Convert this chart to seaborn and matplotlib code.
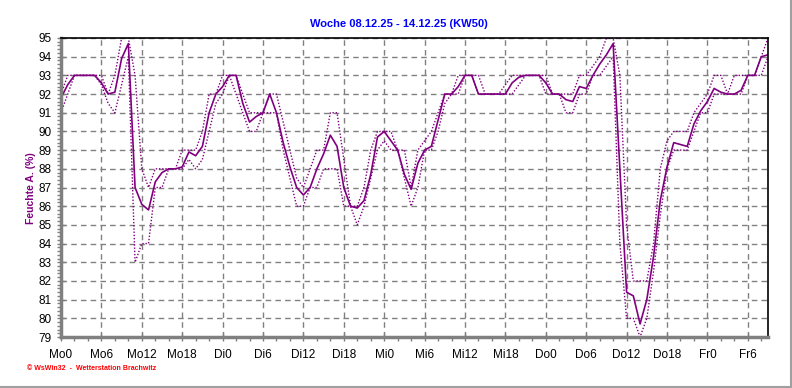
import numpy as np
import pandas as pd
import seaborn as sns
import matplotlib.pyplot as plt
from matplotlib.lines import Line2D
from matplotlib.ticker import MultipleLocator

sns.set_style('white')
plt.rcParams['font.family'] = ['Liberation Sans', 'DejaVu Sans']

# hourly values, Mo 0h .. Fr 9h
hours = list(range(106))
feuchte_mittel = [
    91.8, 92.5, 93.0, 93.0, 93.0, 93.0, 92.6, 92.0, 92.1, 93.9,
    94.7, 87.0, 86.1, 85.8, 87.3, 87.8, 88.0, 88.0, 88.1, 88.9,
    88.7, 89.2, 91.0, 92.0, 92.4, 93.0, 93.0, 91.5, 90.5, 90.8,
    91.0, 92.0, 91.0, 89.4, 88.1, 87.0, 86.6, 87.0, 88.0, 88.8,
    89.8, 89.2, 87.0, 86.0, 85.9, 86.3, 87.7, 89.7, 90.0, 89.5,
    89.0, 87.7, 86.9, 88.3, 89.0, 89.2, 90.6, 92.0, 92.0, 92.4,
    93.0, 93.0, 92.0, 92.0, 92.0, 92.0, 92.0, 92.6, 92.9, 93.0,
    93.0, 93.0, 92.6, 92.0, 92.0, 91.7, 91.6, 92.4, 92.3, 93.0,
    93.6, 94.1, 94.7, 88.0, 81.4, 81.2, 79.7, 81.0, 83.3, 86.3,
    88.1, 89.4, 89.3, 89.2, 90.4, 91.1, 91.6, 92.3, 92.1, 92.0,
    92.0, 92.2, 93.0, 93.0, 94.0, 94.1,
]
feuchte_max = [
    92, 93, 93, 93, 93, 93, 93, 92, 93, 95,
    95, 93, 88, 87, 88, 88, 88, 88, 89, 89,
    89, 90, 92, 92, 93, 93, 93, 92, 91, 91,
    91, 92, 92, 90.5, 89, 87.5, 87, 88, 89, 89,
    91, 91, 88.5, 86, 86, 87, 89, 90, 90, 90,
    89, 89, 87, 89, 89.5, 90, 91, 92, 92, 93,
    93, 93, 93, 92, 92, 92, 92.5, 93, 93, 93,
    93, 93, 93, 92, 92, 92, 92, 93, 93, 93.5,
    94, 95, 95, 93, 85, 82, 82, 82, 84, 88,
    89.5, 90, 90, 90, 91, 91.5, 92, 93, 93, 92,
    93, 93, 93, 93, 94, 95,
]
feuchte_min = [
    91, 92, 93, 93, 93, 93, 92.5, 91.5, 91, 92.5,
    94, 83, 84, 84, 87, 87, 88, 88, 88, 88.5,
    88, 88.5, 90, 91.5, 92, 93, 92, 91, 90, 90,
    91, 91, 91, 89, 87.5, 86, 86, 87, 87, 88,
    88, 88, 86, 86, 85, 86, 87.5, 89, 89.5, 89,
    89, 87.5, 86, 87, 89, 89, 90, 91.5, 92, 92,
    93, 93, 92, 92, 92, 92, 92, 92, 92.5, 93,
    93, 93, 92, 92, 92, 91, 91, 92, 92, 93,
    93, 93.5, 94, 84, 80, 80, 79, 80, 82.5, 85.5,
    88, 89, 89, 89, 90, 91, 91, 92, 92, 92,
    92, 92, 93, 93, 93, 94,
]
tick_hours = list(range(0, 103, 6))
tick_labels = ['Mo0', 'Mo6', 'Mo12', 'Mo18', 'Di0', 'Di6', 'Di12', 'Di18',
               'Mi0', 'Mi6', 'Mi12', 'Mi18', 'Do0', 'Do6', 'Do12', 'Do18',
               'Fr0', 'Fr6']

df = pd.DataFrame({'Stunde': hours, 'Mittel': feuchte_mittel,
                   'Max': feuchte_max, 'Min': feuchte_min})

W, H = 792, 388
fig = plt.figure(figsize=(W / 100, H / 100), dpi=100)
ax = fig.add_axes([61 / W, 1 - 337 / H, (768 - 61) / W, (337 - 38) / H])

purple = '#800080'
sns.lineplot(data=df, x='Stunde', y='Max', color=purple, lw=1,
             linestyle=(0, (1, 1.3)), ax=ax)
sns.lineplot(data=df, x='Stunde', y='Min', color=purple, lw=1,
             linestyle=(0, (1, 1.3)), ax=ax)
sns.lineplot(data=df, x='Stunde', y='Mittel', color=purple, lw=1.2, ax=ax)

ax.set_xlim(0, 105)
ax.set_ylim(79, 95)
ax.set_xticks(tick_hours)
ax.set_xticklabels(tick_labels)
ax.set_yticks(range(79, 96))
ax.xaxis.set_minor_locator(MultipleLocator(2))
ax.yaxis.set_minor_locator(MultipleLocator(0.2))
ax.set_xlabel('')
ax.set_ylabel('')

ax.grid(True, which='major', color='#808080', linestyle=(0, (4, 3)), lw=1)
ax.set_axisbelow(True)

for side in ['top', 'right']:
    ax.spines[side].set_color('black')
    ax.spines[side].set_linewidth(1.2)
for side in ['left', 'bottom']:
    ax.spines[side].set_color('#808080')
    ax.spines[side].set_linewidth(2.5)

ax.tick_params(axis='both', which='major', labelsize=8.5, colors='#808080',
               labelcolor='black', direction='inout', length=6, width=1)
ax.tick_params(axis='x', which='major', pad=6)
ax.tick_params(axis='y', which='major', pad=4)
ax.tick_params(axis='both', which='minor', colors='#808080',
               direction='out', length=3, width=1)
ax.tick_params(left=True, bottom=True, which='both')

fig.text(399 / W, 1 - 24 / H, 'Woche 08.12.25 - 14.12.25 (KW50)',
         ha='center', va='center', color='#0000ff', fontsize=8,
         fontweight='bold')
fig.text(31 / W, 1 - 188 / H, 'Feuchte A. (%)', rotation=90,
         ha='center', va='center', color=purple, fontsize=7.5,
         fontweight='bold')
fig.text(27 / W, 1 - 368 / H, '\u00a9 WsWin32  -  Wetterstation Brachwitz',
         ha='left', va='center', color='red', fontsize=5,
         fontweight='bold')

fig.add_artist(Line2D([0, 1], [1.5 / H, 1.5 / H], transform=fig.transFigure,
                      color='#a0a0a0', lw=1.5))
fig.add_artist(Line2D([1 - 1.5 / W, 1 - 1.5 / W], [0, 1],
                      transform=fig.transFigure, color='#a0a0a0', lw=1.5))

fig.savefig('out.png', dpi=100, facecolor='white')
